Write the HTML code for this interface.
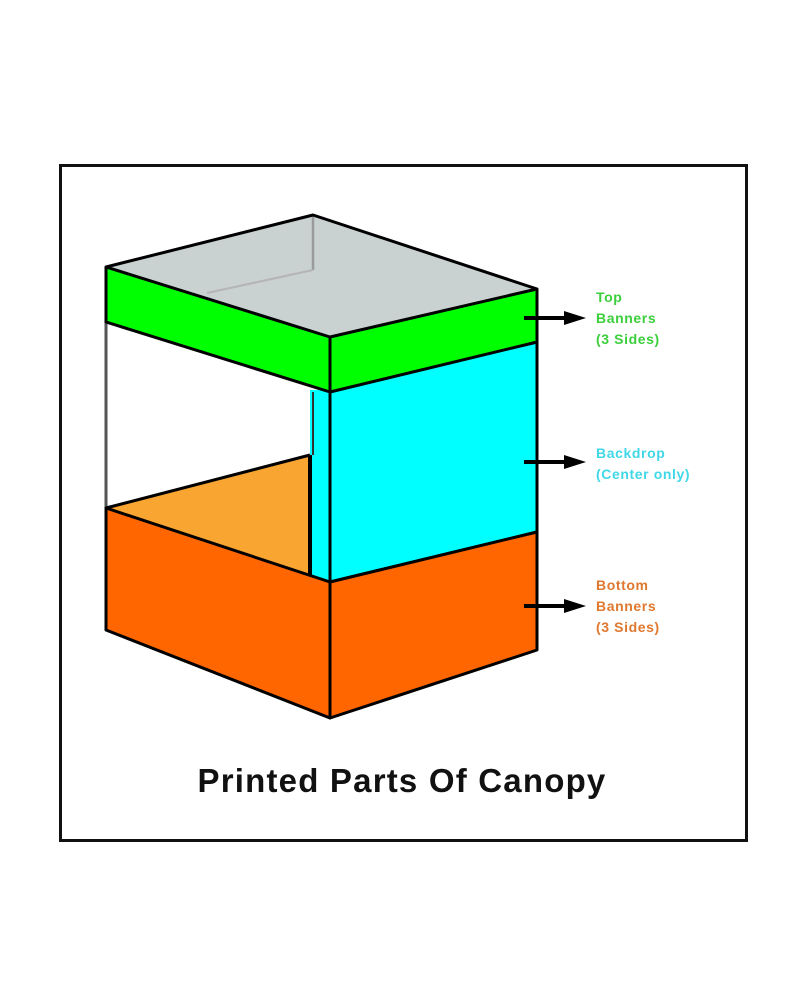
<!DOCTYPE html>
<html><head><style>
html,body{margin:0;padding:0;background:#fff;}
svg{display:block;}
</style></head><body>
<svg width="800" height="1000" viewBox="0 0 800 1000" xmlns="http://www.w3.org/2000/svg">
<rect x="0" y="0" width="800" height="1000" fill="#fff"/>
<rect x="60.5" y="165.5" width="686" height="675" fill="none" stroke="#111" stroke-width="3"/>
<!-- top roof -->
<polygon points="106,267 313,215 537,289 330,337" fill="#c9d1d1"/>
<line x1="313" y1="215" x2="313" y2="270" stroke="#9a9a9a" stroke-width="2.5"/>
<line x1="313" y1="270" x2="207" y2="293" stroke="#b5b5b5" stroke-width="2"/>
<!-- floor -->
<polygon points="106,508 310,455 310,580 330,582" fill="#f9a531"/>
<!-- backdrop inner strip -->
<polygon points="310,390 330,390 330,582 310,580" fill="#00ffff"/>
<line x1="310" y1="455" x2="310" y2="580" stroke="#000" stroke-width="4"/>
<line x1="313" y1="392" x2="313" y2="455" stroke="#333" stroke-width="2"/>
<line x1="106" y1="322" x2="106" y2="508" stroke="#555" stroke-width="3"/>
<line x1="106" y1="508" x2="310" y2="455" stroke="#000" stroke-width="3"/>
<!-- cyan right face -->
<polygon points="330,390 537,342 537,532 330,582" fill="#00ffff" stroke="#000" stroke-width="3" stroke-linejoin="round"/>
<!-- green band -->
<polygon points="106,267 330,337 330,392 106,322" fill="#00ff00" stroke="#000" stroke-width="3" stroke-linejoin="round"/>
<polygon points="330,337 537,289 537,342 330,392" fill="#00ff00" stroke="#000" stroke-width="3" stroke-linejoin="round"/>
<polyline points="106,267 313,215 537,289" fill="none" stroke="#000" stroke-width="3" stroke-linejoin="round"/>
<!-- orange bottom -->
<polygon points="106,508 330,582 330,718 106,630" fill="#ff6600" stroke="#000" stroke-width="3" stroke-linejoin="round"/>
<polygon points="330,582 537,532 537,650 330,718" fill="#ff6600" stroke="#000" stroke-width="3" stroke-linejoin="round"/>
<!-- arrows -->
<g fill="#000" stroke="#000">
<line x1="524" y1="318" x2="568" y2="318" stroke-width="4"/>
<polygon points="564,311 586,318 564,325" stroke="none"/>
<line x1="524" y1="462" x2="568" y2="462" stroke-width="4"/>
<polygon points="564,455 586,462 564,469" stroke="none"/>
<line x1="524" y1="606" x2="568" y2="606" stroke-width="4"/>
<polygon points="564,599 586,606 564,613" stroke="none"/>
</g>
<g font-family="Liberation Sans, sans-serif" font-weight="bold" font-size="14" letter-spacing="0.6">
<text x="596" y="302" fill="#3ccf3c">Top</text>
<text x="596" y="323" fill="#3ccf3c">Banners</text>
<text x="596" y="344" fill="#3ccf3c">(3 Sides)</text>
<text x="596" y="458" fill="#40d8e8">Backdrop</text>
<text x="596" y="479" fill="#40d8e8">(Center only)</text>
<text x="596" y="590" fill="#e07830">Bottom</text>
<text x="596" y="611" fill="#e07830">Banners</text>
<text x="596" y="632" fill="#e07830">(3 Sides)</text>
</g>
<text x="402" y="792" text-anchor="middle" font-family="Liberation Sans, sans-serif" font-weight="bold" font-size="33" letter-spacing="1.2" fill="#111">Printed Parts Of Canopy</text>
</svg>
</body></html>
